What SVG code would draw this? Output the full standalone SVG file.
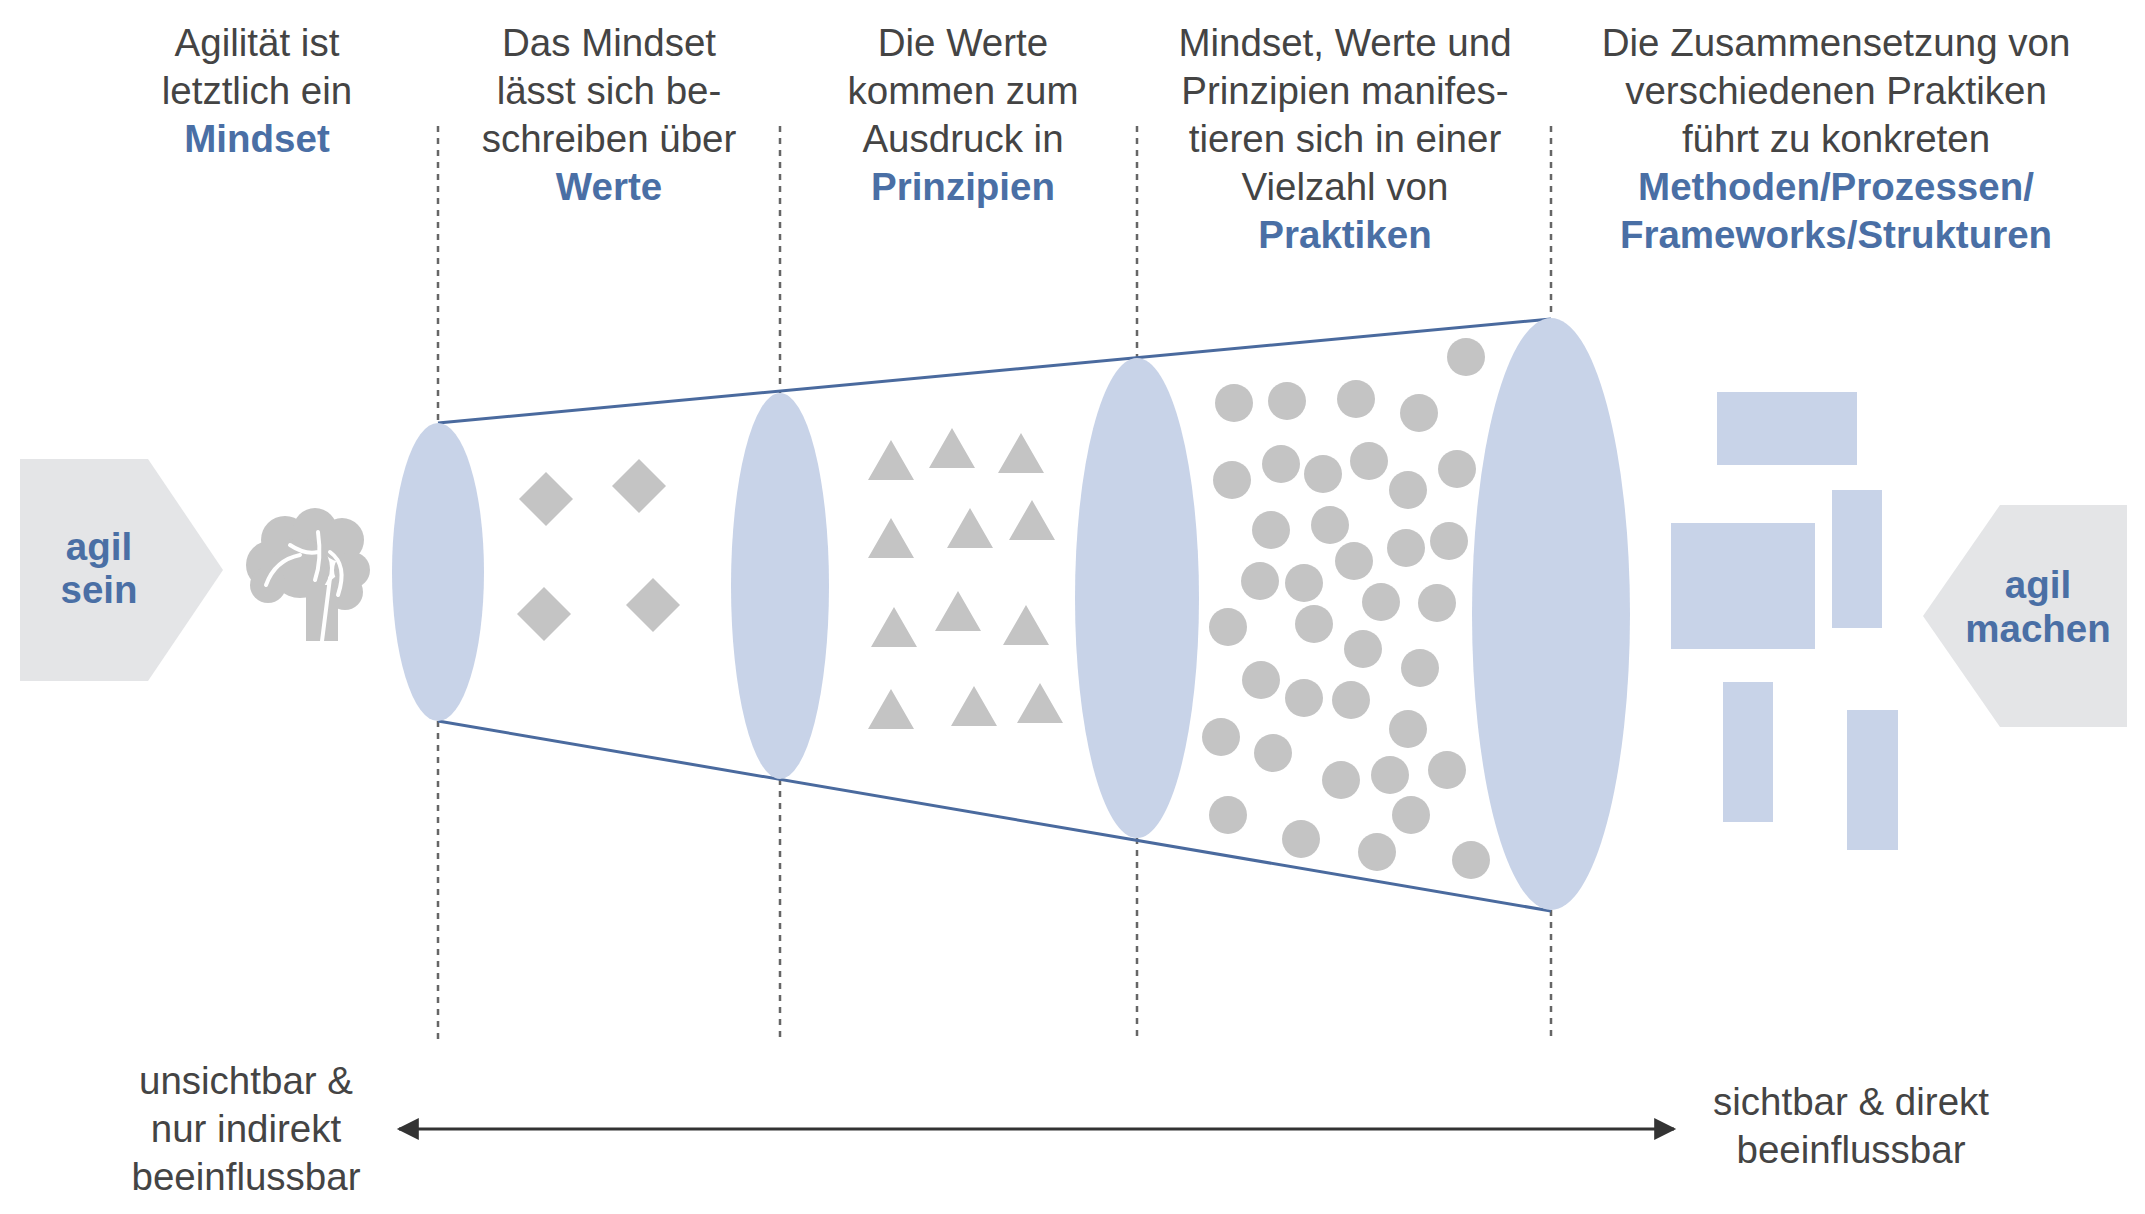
<svg xmlns="http://www.w3.org/2000/svg" width="2145" height="1214" viewBox="0 0 2145 1214">
<defs>
<style>
.t{font-family:"Liberation Sans",Arial,sans-serif;font-size:38.5px;fill:#444;text-anchor:middle}
.b{font-weight:bold;fill:#4a6fa5}
.dash{stroke:#666;stroke-width:2.5;stroke-dasharray:6 6;fill:none}
.ell{fill:#c8d3e8}
.cone{stroke:#4a6a9e;stroke-width:3;fill:none}
.g{fill:#c4c4c4}
.r{fill:#c8d3e8}
</style>
<marker id="ah" viewBox="0 0 10 10" refX="9" refY="5" markerWidth="24" markerHeight="22" orient="auto-start-reverse" markerUnits="userSpaceOnUse"><path d="M0,0 L10,5 L0,10 z" fill="#333"/></marker>
</defs>
<rect width="2145" height="1214" fill="#fff"/>
<g id="headers">
<text class="t" x="257" y="56">Agilität ist</text><text class="t" x="257" y="104">letztlich ein</text><text class="t b" x="257" y="152">Mindset</text>
<text class="t" x="609" y="56">Das Mindset</text><text class="t" x="609" y="104">lässt sich be-</text><text class="t" x="609" y="152">schreiben über</text><text class="t b" x="609" y="200">Werte</text>
<text class="t" x="963" y="56">Die Werte</text><text class="t" x="963" y="104">kommen zum</text><text class="t" x="963" y="152">Ausdruck in</text><text class="t b" x="963" y="200">Prinzipien</text>
<text class="t" x="1345" y="56">Mindset, Werte und</text><text class="t" x="1345" y="104">Prinzipien manifes-</text><text class="t" x="1345" y="152">tieren sich in einer</text><text class="t" x="1345" y="200">Vielzahl von</text><text class="t b" x="1345" y="248">Praktiken</text>
<text class="t" x="1836" y="56">Die Zusammensetzung von</text><text class="t" x="1836" y="104">verschiedenen Praktiken</text><text class="t" x="1836" y="152">führt zu konkreten</text><text class="t b" x="1836" y="200">Methoden/Prozessen/</text><text class="t b" x="1836" y="248">Frameworks/Strukturen</text>
</g>
<g id="connectors">
<path class="dash" d="M438,126V423M438,721V1040M780,126V393M780,779V1040M1137,126V358M1137,838V1040M1551,126V318M1551,910V1040"/>
<line class="cone" x1="438" y1="423" x2="1551" y2="319"/>
<line class="cone" x1="438" y1="721" x2="1551" y2="911"/>
<line x1="399" y1="1129" x2="1674" y2="1129" stroke="#333" stroke-width="3" marker-start="url(#ah)" marker-end="url(#ah)"/>
</g>
<g id="agil-sein">
<polygon points="20,459 148,459 223,570 148,681 20,681" fill="#e4e5e7"/>
<text class="t b" x="99" y="560">agil</text><text class="t b" x="99" y="603">sein</text>
</g>
<g id="brain" fill="#c4c4c4">
<circle cx="270" cy="565" r="24"/><circle cx="285" cy="540" r="24"/><circle cx="315" cy="530" r="22"/><circle cx="342" cy="540" r="22"/><circle cx="352" cy="570" r="18"/><circle cx="345" cy="592" r="18"/><circle cx="300" cy="568" r="30"/><circle cx="268" cy="585" r="18"/>
<rect x="306" y="585" width="32" height="56"/>
<path d="M266,585 Q275,560 300,555 M290,545 Q305,555 318,552 M318,532 Q322,560 315,580 M330,552 Q348,565 338,595 M330,578 L322,641" stroke="#fff" stroke-width="4" fill="none" stroke-linecap="round"/>
</g>
<g id="ellipses">
<ellipse class="ell" cx="438" cy="572" rx="46" ry="149"/>
<ellipse class="ell" cx="780" cy="586" rx="49" ry="193"/>
<ellipse class="ell" cx="1137" cy="598" rx="62" ry="240"/>
<ellipse class="ell" cx="1551" cy="614" rx="79" ry="296"/>
</g>
<g id="werte" class="g">
<polygon points="546,472 573,499 546,526 519,499"/><polygon points="639,459 666,486 639,513 612,486"/>
<polygon points="544,587 571,614 544,641 517,614"/><polygon points="653,578 680,605 653,632 626,605"/>
</g>
<g id="prinzipien" class="g">
<path d="M891,440l-23,40h46z M952,428l-23,40h46z M1021,433l-23,40h46z M891,518l-23,40h46z M970,508l-23,40h46z M1032,500l-23,40h46z M894,607l-23,40h46z M958,591l-23,40h46z M1026,605l-23,40h46z M891,689l-23,40h46z M974,686l-23,40h46z M1040,683l-23,40h46z"/>
</g>
<g id="praktiken" class="g">
<circle cx="1466" cy="357" r="19"/><circle cx="1234" cy="403" r="19"/><circle cx="1287" cy="401" r="19"/><circle cx="1356" cy="399" r="19"/><circle cx="1419" cy="413" r="19"/>
<circle cx="1232" cy="480" r="19"/><circle cx="1281" cy="464" r="19"/><circle cx="1323" cy="474" r="19"/><circle cx="1369" cy="461" r="19"/><circle cx="1408" cy="490" r="19"/><circle cx="1457" cy="469" r="19"/>
<circle cx="1271" cy="530" r="19"/><circle cx="1330" cy="525" r="19"/><circle cx="1406" cy="548" r="19"/><circle cx="1449" cy="541" r="19"/><circle cx="1354" cy="561" r="19"/>
<circle cx="1260" cy="581" r="19"/><circle cx="1304" cy="583" r="19"/><circle cx="1381" cy="602" r="19"/><circle cx="1437" cy="603" r="19"/>
<circle cx="1228" cy="627" r="19"/><circle cx="1314" cy="624" r="19"/><circle cx="1363" cy="649" r="19"/><circle cx="1420" cy="668" r="19"/>
<circle cx="1261" cy="680" r="19"/><circle cx="1304" cy="698" r="19"/><circle cx="1351" cy="700" r="19"/><circle cx="1408" cy="729" r="19"/>
<circle cx="1221" cy="737" r="19"/><circle cx="1273" cy="753" r="19"/><circle cx="1341" cy="780" r="19"/><circle cx="1390" cy="775" r="19"/><circle cx="1447" cy="770" r="19"/>
<circle cx="1228" cy="815" r="19"/><circle cx="1411" cy="815" r="19"/><circle cx="1301" cy="839" r="19"/><circle cx="1377" cy="852" r="19"/><circle cx="1471" cy="860" r="19"/>
</g>
<g id="strukturen" class="r">
<rect x="1717" y="392" width="140" height="73"/><rect x="1832" y="490" width="50" height="138"/><rect x="1671" y="523" width="144" height="126"/><rect x="1723" y="682" width="50" height="140"/><rect x="1847" y="710" width="51" height="140"/>
</g>
<g id="agil-machen">
<polygon points="2127,505 2000,505 1923,616 2000,727 2127,727" fill="#e4e5e7"/>
<text class="t b" x="2038" y="598">agil</text><text class="t b" x="2038" y="642">machen</text>
</g>
<g id="bottom-labels">
<text class="t" x="246" y="1094">unsichtbar &amp;</text><text class="t" x="246" y="1142">nur indirekt</text><text class="t" x="246" y="1190">beeinflussbar</text>
<text class="t" x="1851" y="1115">sichtbar &amp; direkt</text><text class="t" x="1851" y="1163">beeinflussbar</text>
</g>
</svg>
